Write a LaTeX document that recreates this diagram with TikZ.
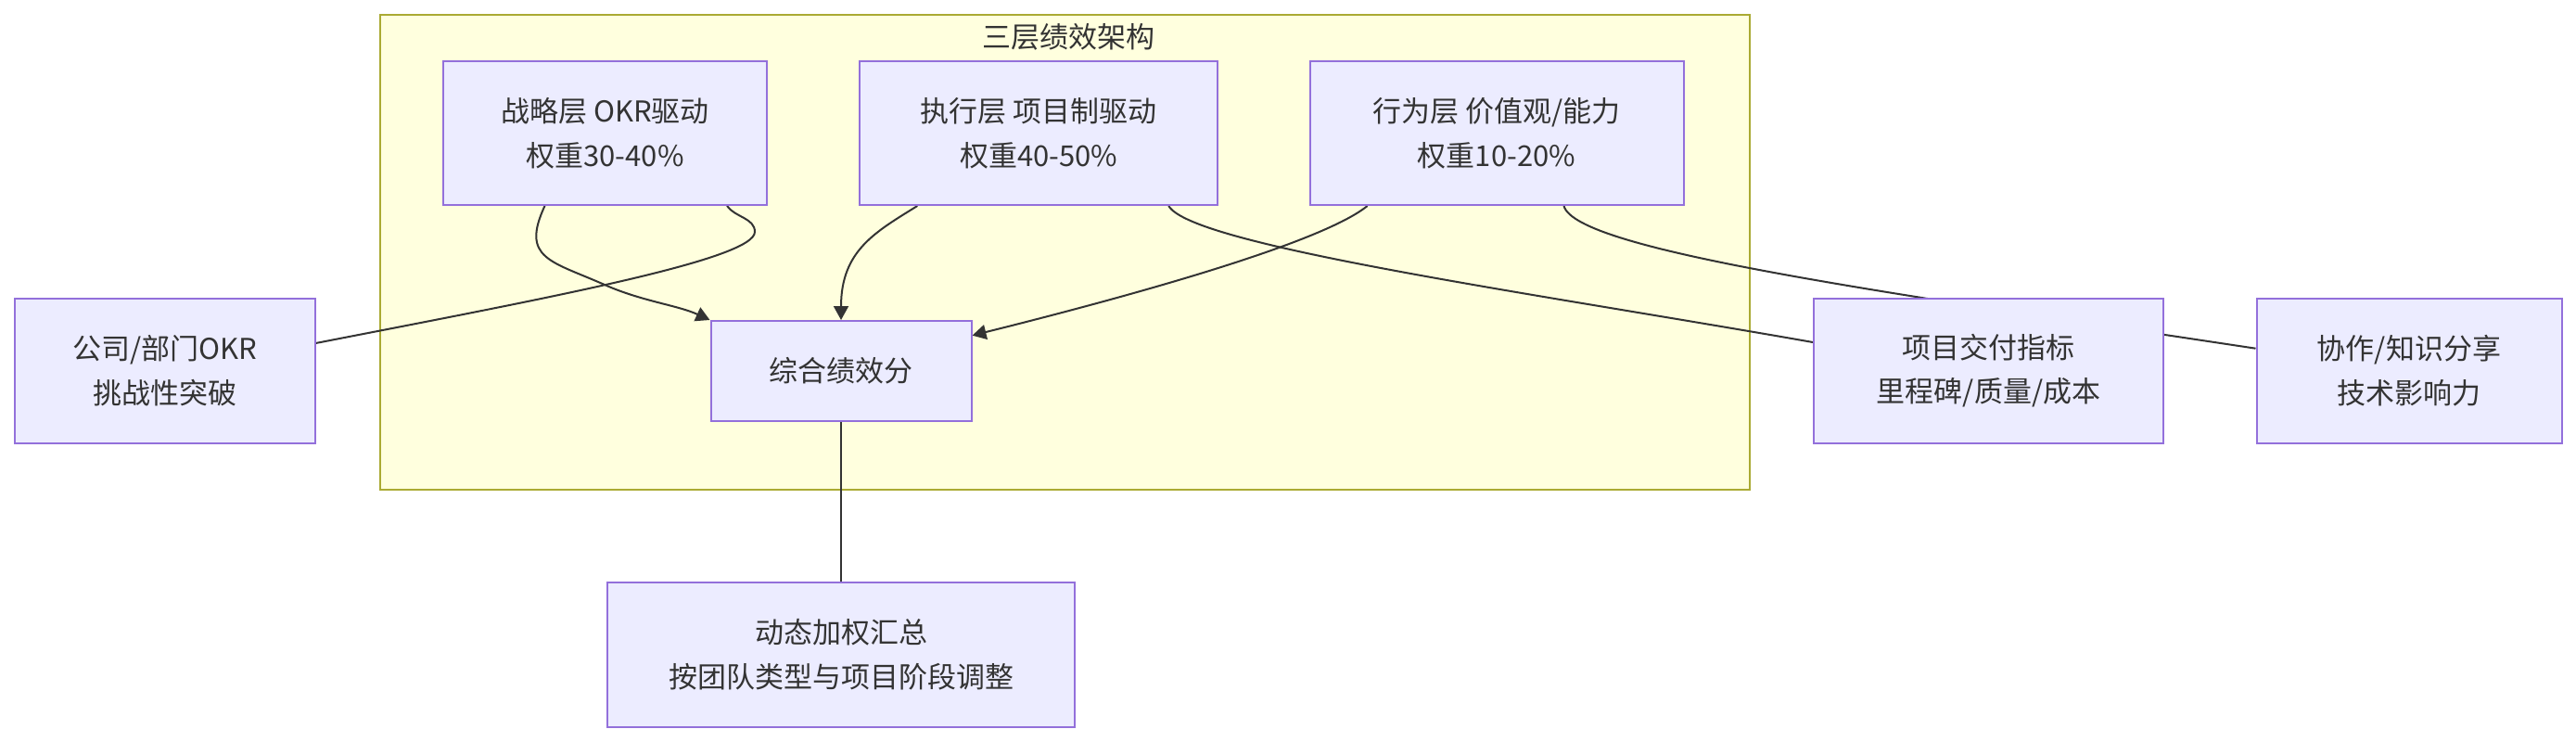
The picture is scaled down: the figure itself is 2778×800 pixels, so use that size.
\documentclass[tikz,border=0pt]{standalone}
\usepackage{fontspec}
\newfontfamily\cjk{Noto Sans CJK SC}
\usetikzlibrary{arrows.meta}
\definecolor{nodefill}{HTML}{ECECFF}
\definecolor{nodeborder}{HTML}{9370DB}
\definecolor{clusterfill}{HTML}{FFFFDE}
\definecolor{clusterborder}{HTML}{AAAA33}
\definecolor{ink}{HTML}{333333}
\pgfdeclarelayer{bg}
\pgfdeclarelayer{edges}
\pgfsetlayers{bg,edges,main}
\begin{document}
\begin{tikzpicture}[x=1pt,y=-1pt,
  box/.style={draw=nodeborder, fill=nodefill, line width=2pt, inner sep=0pt,
    align=center, text=ink, font=\cjk\fontsize{31}{47.6}\selectfont},
  cluster/.style={draw=clusterborder, fill=clusterfill, line width=2pt, inner sep=0pt},
  titletext/.style={text=ink, inner sep=0pt, font=\cjk\fontsize{31}{47.6}\selectfont},
  link/.style={draw=ink, line width=2pt},
  arrowlink/.style={link, -{Triangle[length=15pt,width=16pt]}}]
\useasboundingbox (0,0) rectangle (2778,800);
\begin{pgfonlayer}{bg}
  \fill[white] (0,0) rectangle (2778,800);
  \node[cluster, minimum width=1477pt, minimum height=512pt] (cl) at (1148.1,271.9) {};
\end{pgfonlayer}
\node[titletext] (title) at (1152,40) {三层绩效架构};
\node[box, minimum width=349pt, minimum height=155pt] (s1) at (652.5,143.5) {战略层 OKR驱动\\权重30-40\%};
\node[box, minimum width=386pt, minimum height=155pt] (s2) at (1120.3,143.5) {执行层 项目制驱动\\权重40-50\%};
\node[box, minimum width=403pt, minimum height=155pt] (s3) at (1614,143.5) {行为层 价值观/能力\\权重10-20\%};
\node[box, minimum width=281pt, minimum height=108pt] (c) at (907,400) {综合绩效分};
\node[box, minimum width=324pt, minimum height=156pt] (o) at (177.5,399.7) {公司/部门OKR\\挑战性突破};
\node[box, minimum width=377pt, minimum height=156pt] (p) at (2144.5,399.7) {项目交付指标\\里程碑/质量/成本};
\node[box, minimum width=329pt, minimum height=156pt] (k) at (2598,399.7) {协作/知识分享\\技术影响力};
\node[box, minimum width=504pt, minimum height=156pt] (d) at (907,706) {动态加权汇总\\按团队类型与项目阶段调整};
\begin{pgfonlayer}{edges}
  % strategy -> score
  \draw[arrowlink] ([xshift=-65pt]s1.south) .. controls +(-26.5,57) and +(-57.6,-25.6) .. (652,307)
     .. controls +(40,17.8) and +(-35,-16) .. (c.north west);
  % strategy -- company OKR
  \draw[link] ([xshift=131.5pt]s1.south) .. controls +(8.6,12.3) and +(0,-15) .. (814,250)
     .. controls +(0,30) and +(245,-47.7) .. ([yshift=29.7pt]o.east);
  % execution -> score
  \draw[arrowlink] ([xshift=-131pt]s2.south) .. controls +(-45,28) and +(0,-75) .. (c.north);
  % behaviour -> score
  \draw[arrowlink] ([xshift=-139.4pt]s3.south) .. controls +(-46.6,37.8) and +(194,-48.4) .. ([yshift=38.3pt]c.east);
  % execution -- project delivery
  \draw[link] ([xshift=140pt]s2.south) .. controls +(25,43.3) and +(-295,-52) .. ([yshift=30.7pt]p.west);
  % behaviour -- collaboration
  \draw[link] ([xshift=72.5pt]s3.south) .. controls +(13,48.3) and +(-395.5,-59.8) .. ([yshift=24pt]k.west);
  % score -- summary
  \draw[link] (c.south) -- (d.north);
\end{pgfonlayer}
\end{tikzpicture}
\end{document}
